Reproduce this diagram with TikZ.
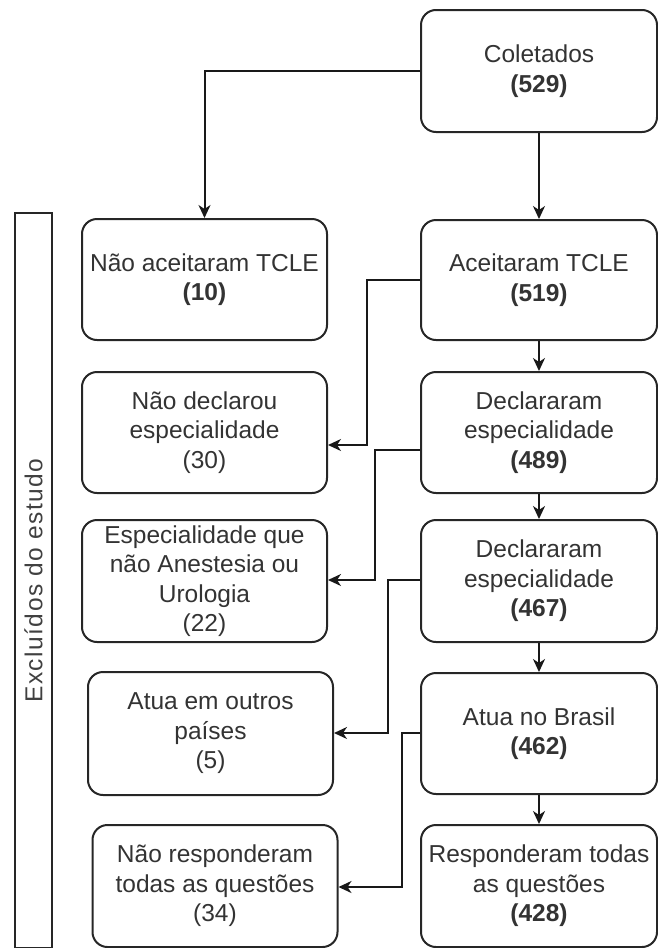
\documentclass[tikz,border=0pt]{standalone}
\usepackage{fontspec}
\setmainfont{Liberation Sans}
\usetikzlibrary{arrows.meta}
\begin{document}
\begin{tikzpicture}[x=1pt,y=-1pt,
  box/.style={draw=black!85, line width=2pt, rounded corners=15pt, align=center,
    inner sep=0pt, font=\fontsize{24.5}{29.5}\selectfont, text=black!80},
  rbox/.style={box, minimum width=236pt},
  lbox/.style={box, minimum width=245pt},
  conn/.style={draw=black!90, line width=2pt, -{Stealth[length=13pt,width=12pt,inset=4pt]}},
  ]
\useasboundingbox (0,0) rectangle (658,948);
% right column
\node[rbox, minimum height=122pt] (coll) at (539,71) {Coletados\\\textbf{(529)}};
\node[rbox, minimum height=120pt] (acc) at (539,280) {Aceitaram TCLE\\\textbf{(519)}};
\node[rbox, minimum height=121pt] (dec1) at (539,432.5) {Declararam\\especialidade\\\textbf{(489)}};
\node[rbox, minimum height=122pt] (dec2) at (539,581) {Declararam\\especialidade\\\textbf{(467)}};
\node[rbox, minimum height=121pt] (bra) at (539,733.5) {Atua no Brasil\\\textbf{(462)}};
\node[rbox, minimum height=122pt] (resp) at (539,886) {Responderam todas\\as questões\\\textbf{(428)}};
% left column
\node[lbox, minimum height=121pt] (nao) at (204.5,279.5) {Não aceitaram TCLE\\\textbf{(10)}};
\node[lbox, minimum height=121pt] (nd) at (204.5,432.5) {Não declarou\\especialidade\\(30)};
\node[lbox, minimum height=122pt] (esp) at (204.5,581) {Especialidade que\\não Anestesia ou\\Urologia\\(22)};
\node[lbox, minimum height=123pt] (out) at (210.5,733.5) {Atua em outros\\países\\(5)};
\node[lbox, minimum height=122pt] (nr) at (215,886) {Não responderam\\todas as questões\\(34)};
% side bar
\node[draw=black!85, line width=2pt, minimum width=37pt, minimum height=735pt, inner sep=0pt] (bar) at (33.5,580.5) {};
\node[rotate=90, font=\fontsize{24.5}{29}\selectfont\addfontfeature{LetterSpace=6}, text=black!75] (barlbl) at (bar.center) {Excluídos do estudo};
% connectors
\draw[conn] (coll.west |- 0,71) -| (nao.north);
\draw[conn] (coll.south) -- (acc.north);
\draw[conn] (acc.south) -- (dec1.north);
\draw[conn] (dec1.south) -- (dec2.north);
\draw[conn] (dec2.south) -- (bra.north);
\draw[conn] (bra.south) -- (resp.north);
\coordinate (c1) at (367,280);
\coordinate (c2) at (375,450);
\coordinate (c3) at (388,580);
\coordinate (c4) at (402,733);
\draw[conn] (acc.west |- c1) -- (c1) |- (nd.east |- 0,445);
\draw[conn] (dec1.west |- c2) -- (c2) |- (esp.east |- 0,580);
\draw[conn] (dec2.west |- c3) -- (c3) |- (out.east |- 0,733);
\draw[conn] (bra.west |- c4) -- (c4) |- (nr.east |- 0,887);
\end{tikzpicture}
\end{document}
